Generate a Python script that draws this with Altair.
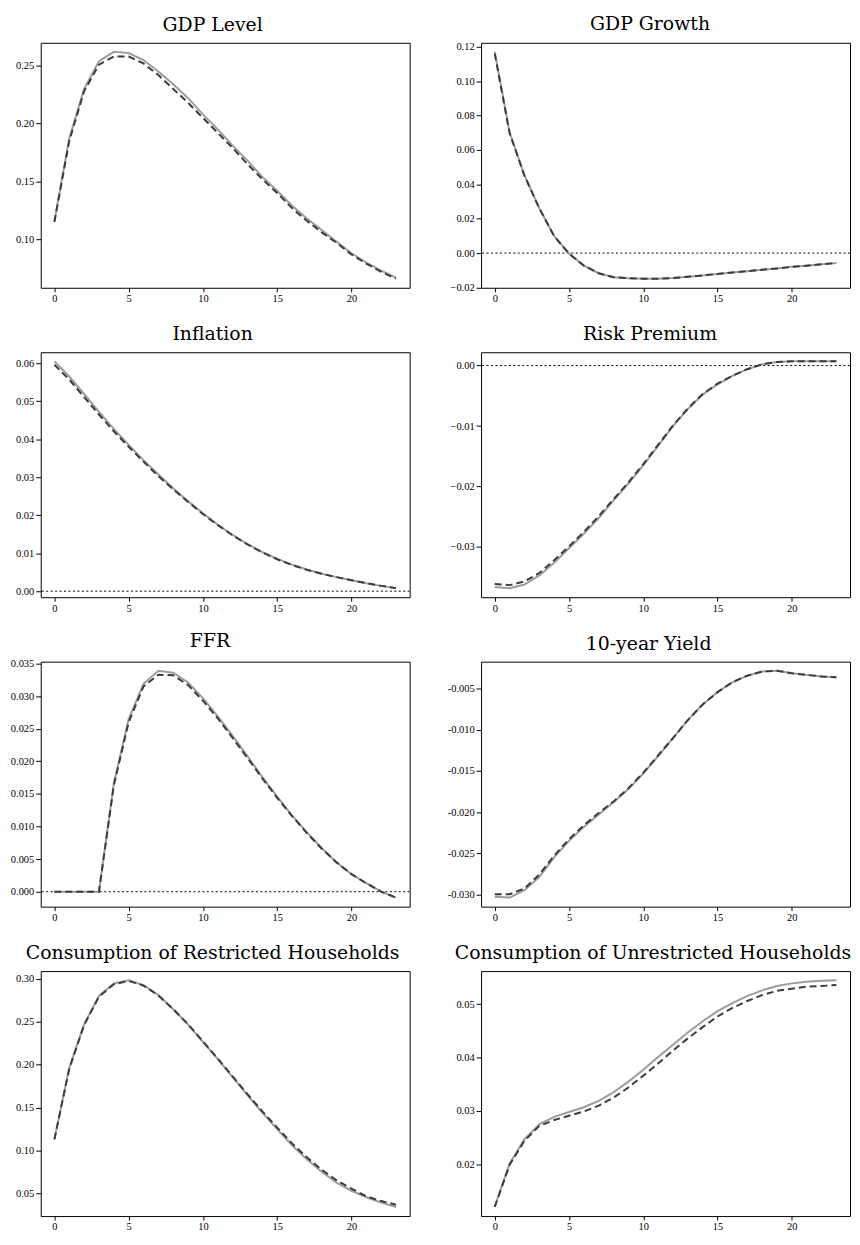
import altair as alt
import pandas as pd

# horizon (quarters)
t = list(range(24))
x_ticks = [0, 5, 10, 15, 20]

titles = [
    "GDP Level", "GDP Growth",
    "Inflation", "Risk Premium",
    "FFR", "10-year Yield",
    "Consumption of Restricted Households", "Consumption of Unrestricted Households",
]

gdp_level_solid = [0.116, 0.187, 0.230, 0.254, 0.262, 0.261, 0.255, 0.245, 0.234, 0.222, 0.208, 0.195,
                   0.181, 0.168, 0.154, 0.142, 0.129, 0.118, 0.108, 0.098, 0.088, 0.080, 0.073, 0.067]
gdp_level_dashed = [0.115, 0.185, 0.228, 0.251, 0.258, 0.258, 0.252, 0.242, 0.230, 0.218, 0.205, 0.192,
                    0.179, 0.165, 0.152, 0.140, 0.127, 0.116, 0.106, 0.097, 0.087, 0.079, 0.072, 0.066]

gdp_growth_solid = [0.117, 0.0702, 0.0453, 0.0262, 0.0099, -0.0002, -0.0073, -0.0117, -0.0140, -0.0146, -0.0149, -0.0149,
                    -0.0145, -0.0138, -0.0130, -0.0121, -0.0113, -0.0105, -0.0097, -0.0089, -0.0080, -0.0073, -0.0065, -0.0058]
gdp_growth_dashed = [0.116, 0.0698, 0.0450, 0.0260, 0.0098, -0.0003, -0.0073, -0.0117, -0.0140, -0.0146, -0.0149, -0.0149,
                     -0.0145, -0.0138, -0.0130, -0.0121, -0.0113, -0.0105, -0.0097, -0.0089, -0.0080, -0.0073, -0.0065, -0.0058]

inflation_solid = [0.0605, 0.0565, 0.0519, 0.0472, 0.0427, 0.0385, 0.0345, 0.0307, 0.0271, 0.0237, 0.0205, 0.0175,
                   0.0148, 0.0124, 0.0103, 0.0085, 0.0070, 0.0057, 0.0046, 0.0037, 0.0029, 0.0021, 0.0014, 0.0008]
inflation_dashed = [0.0596, 0.0557, 0.0511, 0.0465, 0.0421, 0.0380, 0.0341, 0.0303, 0.0268, 0.0235, 0.0203, 0.0174,
                    0.0147, 0.0123, 0.0102, 0.0084, 0.0069, 0.0056, 0.0046, 0.0037, 0.0029, 0.0021, 0.0014, 0.0008]

risk_solid = [-0.0366, -0.0368, -0.0362, -0.0347, -0.0326, -0.0302, -0.0278, -0.0252, -0.0223, -0.0195, -0.0165, -0.0133,
              -0.0100, -0.0072, -0.0048, -0.0031, -0.0017, -0.0006, 0.0002, 0.0006, 0.0007, 0.0007, 0.0007, 0.0007]
risk_dashed = [-0.0361, -0.0363, -0.0357, -0.0343, -0.0322, -0.0299, -0.0275, -0.0249, -0.0221, -0.0193, -0.0163, -0.0131,
               -0.0099, -0.0071, -0.0047, -0.0030, -0.0017, -0.0006, 0.0002, 0.0006, 0.0007, 0.0007, 0.0007, 0.0007]

ffr_solid = [0.0, 0.0, 0.0, 0.0, 0.0166, 0.0265, 0.0319, 0.0339, 0.0336, 0.0321, 0.0297, 0.0269,
             0.0239, 0.0208, 0.0176, 0.0146, 0.0117, 0.0091, 0.0067, 0.0045, 0.0027, 0.0013, 0.0000, -0.0009]
ffr_dashed = [0.0, 0.0, 0.0, 0.0, 0.0163, 0.0260, 0.0315, 0.0333, 0.0332, 0.0317, 0.0293, 0.0266,
              0.0236, 0.0205, 0.0174, 0.0144, 0.0116, 0.0090, 0.0066, 0.0045, 0.0027, 0.0013, 0.0000, -0.0009]

yield_solid = [-0.0303, -0.0304, -0.0295, -0.0279, -0.0255, -0.0235, -0.0218, -0.0203, -0.0188, -0.0172, -0.0153, -0.0132,
               -0.0110, -0.0088, -0.0069, -0.0054, -0.0042, -0.0034, -0.0029, -0.0028, -0.0031, -0.0033, -0.0035, -0.0036]
yield_dashed = [-0.0300, -0.0300, -0.0293, -0.0276, -0.0253, -0.0233, -0.0216, -0.0201, -0.0187, -0.0171, -0.0152, -0.0131,
                -0.0110, -0.0088, -0.0069, -0.0054, -0.0042, -0.0034, -0.0029, -0.0028, -0.0031, -0.0033, -0.0035, -0.0036]

restricted_solid = [0.1126, 0.1962, 0.2467, 0.2799, 0.2944, 0.2983, 0.2925, 0.2810, 0.2645, 0.2466, 0.2263, 0.2064,
                    0.1853, 0.1643, 0.1440, 0.1249, 0.1061, 0.0897, 0.0751, 0.0625, 0.0530, 0.0455, 0.0393, 0.0341]
restricted_dashed = [0.1130, 0.1950, 0.2460, 0.2790, 0.2935, 0.2975, 0.2920, 0.2805, 0.2645, 0.2470, 0.2270, 0.2070,
                     0.1862, 0.1655, 0.1455, 0.1266, 0.1082, 0.0920, 0.0775, 0.0652, 0.0555, 0.0466, 0.0410, 0.0368]

unrestricted_solid = [0.0121, 0.0201, 0.0247, 0.0275, 0.0289, 0.0298, 0.0307, 0.0319, 0.0335, 0.0355, 0.0377, 0.0401,
                      0.0424, 0.0447, 0.0468, 0.0487, 0.0502, 0.0515, 0.0526, 0.0534, 0.0539, 0.0542, 0.0544, 0.0545]
unrestricted_dashed = [0.0120, 0.0199, 0.0244, 0.0272, 0.0283, 0.0291, 0.0299, 0.0310, 0.0325, 0.0344, 0.0366, 0.0389,
                       0.0413, 0.0436, 0.0457, 0.0477, 0.0493, 0.0506, 0.0517, 0.0525, 0.0529, 0.0533, 0.0534, 0.0536]

# y tick values as printed on each panel
ticks_gdp_level = [0.10, 0.15, 0.20, 0.25]
ticks_gdp_growth = [-0.02, 0.00, 0.02, 0.04, 0.06, 0.08, 0.10, 0.12]
ticks_inflation = [0.00, 0.01, 0.02, 0.03, 0.04, 0.05, 0.06]
ticks_risk = [-0.03, -0.02, -0.01, 0.00]
ticks_ffr = [0.000, 0.005, 0.010, 0.015, 0.020, 0.025, 0.030, 0.035]
ticks_yield = [-0.030, -0.025, -0.020, -0.015, -0.010, -0.005]
ticks_restricted = [0.05, 0.10, 0.15, 0.20, 0.25, 0.30]
ticks_unrestricted = [0.02, 0.03, 0.04, 0.05]

label_exprs = [
    "format(datum.value, '.2f')",
    "format(datum.value, '.2f')",
    "format(datum.value, '.2f')",
    "format(datum.value, '.2f')",
    "format(datum.value, '.3f')",
    "replace(format(datum.value, '.3f'), '\u2212', '-')",
    "format(datum.value, '.2f')",
    "format(datum.value, '.2f')",
]

series = [
    (gdp_level_solid, gdp_level_dashed, ticks_gdp_level),
    (gdp_growth_solid, gdp_growth_dashed, ticks_gdp_growth),
    (inflation_solid, inflation_dashed, ticks_inflation),
    (risk_solid, risk_dashed, ticks_risk),
    (ffr_solid, ffr_dashed, ticks_ffr),
    (yield_solid, yield_dashed, ticks_yield),
    (restricted_solid, restricted_dashed, ticks_restricted),
    (unrestricted_solid, unrestricted_dashed, ticks_unrestricted),
]

PW, PH = 372, 247


def make_panel(title, solid, dashed, ticks, lexpr):
    vals = solid + dashed
    lo, hi = min(vals), max(vals)
    pad = 0.04 * (hi - lo)
    n = len(t)
    df = pd.DataFrame({
        "t": t + t,
        "v": vals,
        "s": ["solid"] * n + ["dashed"] * n,
    })
    xenc = alt.X(
        "t:Q",
        scale=alt.Scale(domain=[-0.92, 23.92], nice=False, zero=False),
        axis=alt.Axis(values=x_ticks, format="d", title=None, tickSize=4,
                      labelPadding=2, grid=False, domain=False),
    )
    yenc = alt.Y(
        "v:Q",
        scale=alt.Scale(domain=[lo - pad, hi + pad], nice=False, zero=False),
        axis=alt.Axis(values=ticks, labelExpr=lexpr, title=None, tickSize=5,
                      labelPadding=2, grid=False, domain=False),
    )
    base = alt.Chart(df).encode(x=xenc, y=yenc)
    solid_line = base.transform_filter(alt.datum.s == "solid").mark_line(
        color="#9c9c9c", strokeWidth=2)
    dashed_line = base.transform_filter(alt.datum.s == "dashed").mark_line(
        color="#3c3c3c", strokeWidth=2, strokeDash=[7, 4])
    zero = alt.Chart(pd.DataFrame({"v": [0.0]})).mark_rule(
        color="black", strokeWidth=1, strokeDash=[2, 2.5], clip=True
    ).encode(y=yenc)
    return alt.layer(zero, solid_line, dashed_line).properties(
        width=PW, height=PH, title=title)


panels = [make_panel(tt, s, d, tk, le)
          for tt, (s, d, tk), le in zip(titles, series, label_exprs)]

chart = alt.concat(
    *panels, columns=2, spacing={"row": 65, "column": 72}, bounds="flush"
).properties(
    padding={"left": 1, "top": 1, "right": 0, "bottom": 0}
).configure_view(
    stroke="black", strokeWidth=1
).configure_axis(
    labelFont="Liberation Serif", labelFontSize=10.5, labelColor="black",
    tickColor="black", tickWidth=1
).configure_title(
    font="DejaVu Serif", fontSize=19, fontWeight="normal", color="black",
    anchor="middle", frame="bounds", offset=8
)

chart.save("out.html", embed_options={"renderer": "svg", "actions": False})
